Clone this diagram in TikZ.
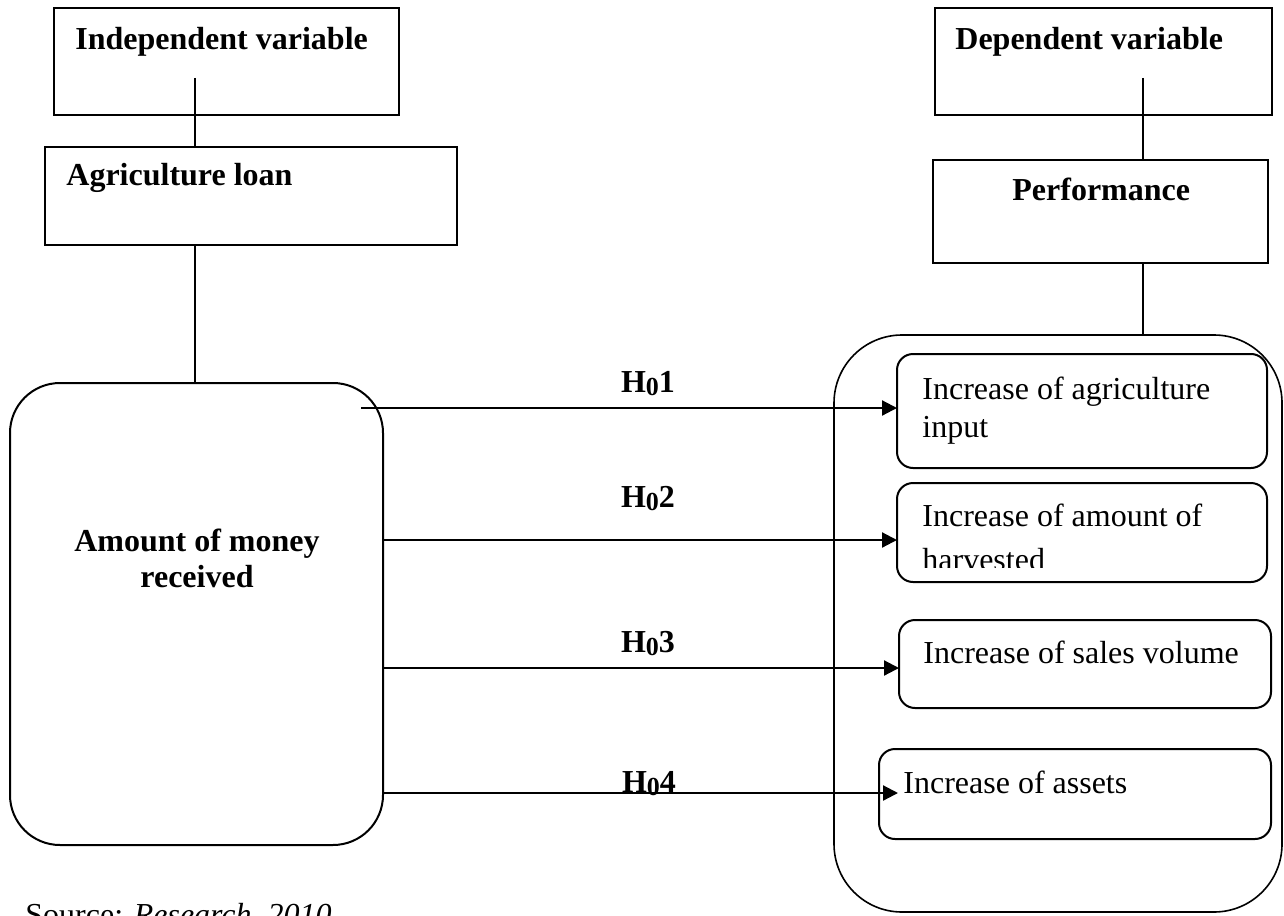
\documentclass[tikz,border=0pt]{standalone}
\usepackage{fontspec}
\setmainfont{Liberation Serif}
\usetikzlibrary{arrows.meta,calc}
\begin{document}
\begin{tikzpicture}[x=0.5pt,y=-0.5pt,
  box/.style={draw, line width=1pt, anchor=north west, inner sep=0pt, outer sep=0pt},
  rbox/.style={box, rounded corners=8pt},
  txt/.style={anchor=base west, inner sep=0pt, font=\fontsize{16}{19}\selectfont},
  btxt/.style={txt, font=\fontsize{16}{19}\selectfont\bfseries},
  hlab/.style={anchor=base, inner sep=0pt, font=\fontsize{16}{19}\selectfont\bfseries},
  link/.style={line width=0.8pt},
  arr/.style={line width=1.1pt, -{Triangle[length=7.5pt,width=7.5pt]}}]
\useasboundingbox (0,0) rectangle (1284,915);
\fill[white] (0,0) rectangle (1284,915);
% boxes
\node[box, minimum width=172.5pt, minimum height=53.5pt] (indep) at (54,8) {};
\node[box, minimum width=206pt, minimum height=49pt] (loan) at (45,147) {};
\node[box, minimum width=168.5pt, minimum height=53.5pt] (dep) at (935,8) {};
\node[box, minimum width=167.5pt, minimum height=51.5pt] (perf) at (933,160) {};
\node[box, rounded corners=25pt, minimum width=186.5pt, minimum height=231pt] (amount) at (10,383) {};
\node[box, line width=0.8pt, rounded corners=34pt, minimum width=224pt, minimum height=288.5pt] (cont) at (834,335) {};
\node[rbox, minimum width=185pt, minimum height=57pt] (b1) at (897,354) {};
\node[rbox, minimum width=185pt, minimum height=49.5pt] (b2) at (897,483) {};
\node[rbox, minimum width=186pt, minimum height=44pt] (b3) at (899,620) {};
\node[rbox, minimum width=196pt, minimum height=45pt] (b4) at (879,749) {};
% texts
\node[btxt] (tindep) at (75,50) {Independent variable};
\node[btxt] (tloan) at (66,185) {Agriculture loan};
\node[btxt] (tdep) at (955,50) {Dependent variable};
\node[btxt] (tperf) at (1012,200) {Performance};
\node[hlab] (tam1) at (197,551) {Amount of money};
\node[hlab] (tam2) at (197,587) {received};
\node[txt] (t1a) at (922,399) {Increase of agriculture};
\node[txt] (t1b) at (922,437) {input};
\node[txt] (t2a) at (922,526) {Increase of amount of};
\begin{scope}
\clip (890,470) rectangle (1270,567);
\node[txt] (t2b) at (922,570) {harvested};
\end{scope}
\node[txt] (t3) at (923,663) {Increase of sales volume};
\node[txt] (t4) at (903,793) {Increase of assets};
\node[txt] (src) at (25,925) {Source: \textit{Research, 2010}};
% hypothesis labels
\newcommand{\hz}[1]{H\raisebox{-0.1em}{\fontsize{13}{13}\selectfont 0}#1}
\node[hlab] (h1) at (648,392) {\hz{1}};
\node[hlab] (h2) at (648,507) {\hz{2}};
\node[hlab] (h3) at (648,652) {\hz{3}};
\node[hlab] (h4) at (649,792) {\hz{4}};
% vertical links
\coordinate (c1) at (195,78);
\coordinate (c2) at (1143,78);
\draw[link] (c1) -- (c1 |- loan.north);
\draw[link] (c1 |- loan.south) -- (c1 |- amount.north);
\draw[link] (c2) -- (c2 |- perf.north);
\draw[link] (c2 |- perf.south) -- (c2 |- cont.north);
% arrows
\coordinate (s1) at (361,408);
\coordinate (s2) at (383,540);
\coordinate (s3) at (383,668);
\coordinate (s4) at (383,793);
\coordinate (e4) at (898,793);
\draw[arr] (s1) -- (s1 -| b1.west);
\draw[arr] (s2) -- (s2 -| b2.west);
\draw[arr] (s3) -- (s3 -| b3.west);
\draw[arr] (s4) -- (e4);
\end{tikzpicture}
\end{document}
